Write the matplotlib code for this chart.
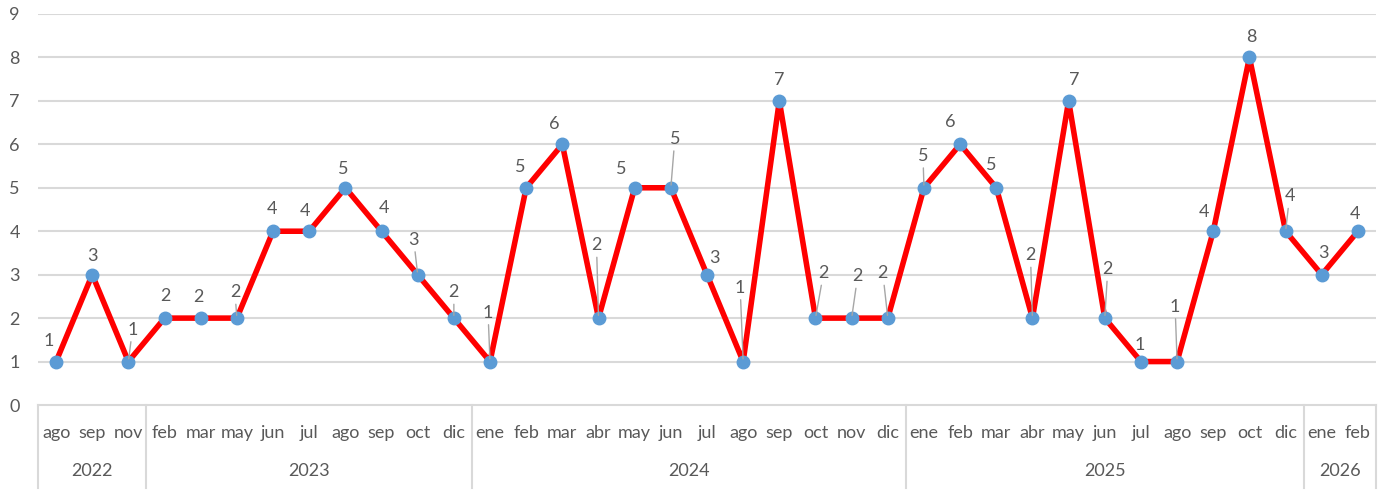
import matplotlib
matplotlib.use("Agg")
import matplotlib.pyplot as plt

years = ["2022", "2023", "2024", "2025", "2026"]
months_by_year = [
    ["ago", "sep", "nov"],
    ["feb", "mar", "may", "jun", "jul", "ago", "sep", "oct", "dic"],
    ["ene", "feb", "mar", "abr", "may", "jun", "jul", "ago", "sep", "oct", "nov", "dic"],
    ["ene", "feb", "mar", "abr", "may", "jun", "jul", "ago", "sep", "oct", "dic"],
    ["ene", "feb"],
]
values = [
    1, 3, 1,
    2, 2, 2, 4, 4, 5, 4, 3, 2,
    1, 5, 6, 2, 5, 5, 3, 1, 7, 2, 2, 2,
    5, 6, 5, 2, 7, 2, 1, 1, 4, 8, 4,
    3, 4,
]
# label centre offsets in pixels (dx, dy up) and whether a leader line is drawn
label_offsets = [
    (-7, 21, False), (0, 19, False), (4, 32, True),
    (1, 22, False), (-2, 21, False), (-2, 26, True), (-1, 22, False), (-4, 20, False),
    (-2, 19, False), (2, 23, False), (-4, 35, True), (0, 26, True),
    (-2, 49, True), (-6, 21, False), (-8, 20, False), (-2, 73, True), (-13, 19, False),
    (4, 49, True), (7, 17, False), (-3, 74, True), (0, 21, False), (8, 45, True),
    (6, 42, True), (-5, 45, True),
    (-1, 32, True), (-10, 22, False), (-5, 23, False), (-2, 63, True), (6, 21, False),
    (3, 49, True), (-1, 17, False), (-2, 55, True), (-9, 19, False), (2, 20, False),
    (4, 35, True),
    (2, 22, False), (-3, 17, False),
]

FONT = ["Lato", "DejaVu Sans"]
plt.rcParams["font.family"] = FONT

TXT = "#595959"
GRID = "#d9d9d9"

W, H = 1387, 491
fig = plt.figure(figsize=(W / 100, H / 100), dpi=100)
ax_l, ax_r, ax_t, ax_b = 38, 1376, 14, 405
ax = fig.add_axes([ax_l / W, 1 - ax_b / H, (ax_r - ax_l) / W, (ax_b - ax_t) / H])

n = len(values)
x = list(range(n))
ax.set_xlim(-0.5, n - 0.5)
ax.set_ylim(0, 9)

for v in range(1, 10):
    ax.axhline(v, color=GRID, lw=1.5, zorder=0)

ax.plot(x, values, color="#ff0000", lw=4.0, zorder=2, solid_joinstyle="round",
        solid_capstyle="round",
        marker="o", markersize=9, markerfacecolor="#5b9bd5", markeredgecolor="#5b9bd5")

for xi, v, (dx, dy, lead) in zip(x, values, label_offsets):
    arrow = None
    if lead:
        arrow = dict(arrowstyle="-", color="#a6a6a6", lw=1.0, shrinkA=1, shrinkB=2)
    ax.annotate(str(v), (xi, v), xytext=(dx, dy), textcoords="offset pixels",
                ha="center", va="center", fontsize=13, color=TXT, zorder=4,
                arrowprops=arrow)

for s in ["top", "right", "left"]:
    ax.spines[s].set_visible(False)
ax.spines["bottom"].set_color(GRID)
ax.spines["bottom"].set_linewidth(1.5)

ax.set_yticks(range(0, 10))
ax.set_yticklabels([str(v) for v in range(10)], color=TXT, fontsize=13)
ax.tick_params(axis="y", length=0, pad=13)
ax.set_xticks([])

# multi-level category axis
h_px = ax_b - ax_t
month_y = -28 / h_px
year_y = -66 / h_px
sep_bottom = -83 / h_px
trans = ax.get_xaxis_transform()
i = 0
bounds = [-0.5]
for yr, months in zip(years, months_by_year):
    for m in months:
        ax.text(i, month_y, m, transform=trans, ha="center", va="center",
                fontsize=13, color=TXT)
        i += 1
    ax.text((bounds[-1] + i - 0.5) / 2, year_y, yr, transform=trans, ha="center",
            va="center", fontsize=13, color=TXT)
    bounds.append(i - 0.5)
for b in bounds:
    ax.plot([b, b], [0, sep_bottom], transform=trans, color=GRID, lw=1.5,
            clip_on=False, zorder=1)

fig.savefig("out.png", dpi=100, facecolor="white")
